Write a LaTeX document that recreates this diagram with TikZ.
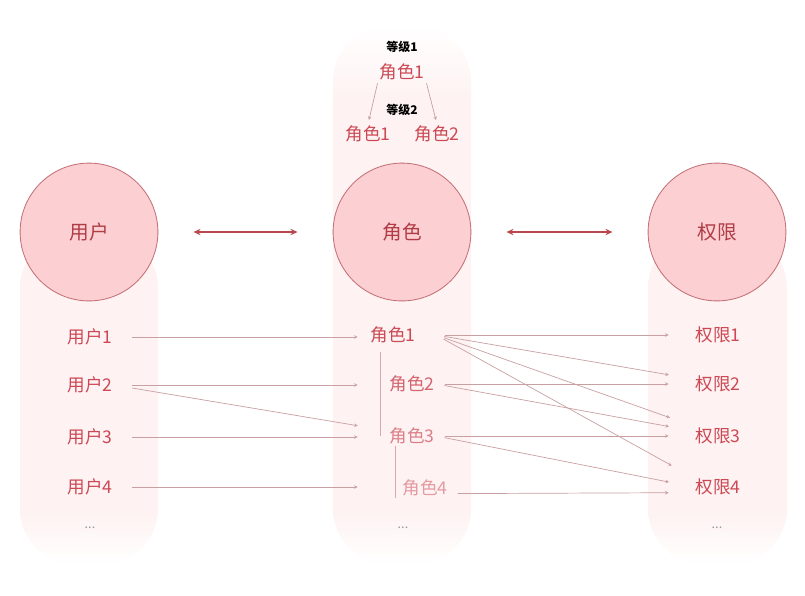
\documentclass[tikz,border=0pt]{standalone}
\usepackage{fontspec}
\setmainfont{Noto Sans CJK SC}
\usetikzlibrary{arrows.meta}
\definecolor{labred}{RGB}{204,72,84}
\definecolor{circtext}{RGB}{176,60,70}
\definecolor{circfill}{RGB}{252,208,210}
\definecolor{circline}{RGB}{196,112,118}
\definecolor{arrred}{RGB}{184,72,76}
\definecolor{linkcol}{RGB}{200,160,162}
\definecolor{colbg}{RGB}{254,242,242}
\definecolor{barcol}{RGB}{214,170,172}
\pgfdeclareverticalshading{sidefade}{100bp}{color(0bp)=(white); color(25bp)=(white);
  color(33bp)=(colbg); color(100bp)=(colbg)}
\pgfdeclareverticalshading{midfade}{100bp}{color(0bp)=(white); color(25bp)=(white);
  color(30bp)=(colbg); color(68bp)=(colbg); color(75bp)=(white); color(100bp)=(white)}
\tikzset{
  column/.style={rounded corners=40pt},
  bigcircle/.style={circle, draw=circline, line width=0.6pt, fill=circfill,
    minimum size=98pt, inner sep=0pt, text=circtext, font=\fontsize{14}{16}\selectfont},
  item/.style={inner sep=1pt, text=labred, font=\fontsize{12.5}{14}\selectfont},
  level/.style={inner sep=1pt, font=\bfseries\fontsize{8.5}{10}\selectfont},
  more/.style={text=gray!80, font=\fontsize{9}{10}\selectfont},
  both/.style={{Stealth[length=5pt,width=4.5pt]}-{Stealth[length=5pt,width=4.5pt]},
    draw=arrred, line width=1pt},
  ulink/.style={-{Stealth[length=2.5pt,width=2.5pt]}, draw=linkcol, line width=0.5pt,
    shorten <=13pt, shorten >=8pt},
  plink/.style={-{Stealth[length=2.5pt,width=2.5pt]}, draw=linkcol, line width=0.5pt,
    shorten <=6pt, shorten >=18pt},
  subarrow/.style={-{Stealth[length=2.5pt,width=2.5pt]}, draw=linkcol, line width=0.5pt,
    shorten <=1pt, shorten >=3pt},
  bar/.style={draw=barcol, line width=0.6pt}
}
\begin{document}
\begin{tikzpicture}[x=0.025cm, y=-0.025cm]
  \useasboundingbox (0,0) rectangle (805,595);
  % columns
  \shade[column, shading=sidefade] (20,232) rectangle (158,565);
  \shade[column, shading=midfade] (333,25) rectangle (471,565);
  \shade[column, shading=sidefade] (648,232) rectangle (787,565);
  % circles
  \node[bigcircle] (cu) at (89,232) {用户};
  \node[bigcircle] (cr) at (402,232) {角色};
  \node[bigcircle] (cp) at (717,232) {权限};
  \draw[both, shorten <=25pt, shorten >=25pt] (cu) -- (cr);
  \draw[both, shorten <=25pt, shorten >=25pt] (cr) -- (cp);
  % role levels
  \node[level] (lv1) at (402,47) {等级1};
  \node[item] (top) at (402,72) {角色1};
  \node[level] (lv2) at (402,110) {等级2};
  \node[item] (subA) at (368,134) {角色1};
  \node[item] (subB) at (437,134) {角色2};
  \draw[subarrow] (top.south west) -- (subA.north);
  \draw[subarrow] (top.south east) -- (subB.north);
  % users
  \node[item] (u1) at (90,337) {用户1};
  \node[item] (u2) at (90,385) {用户2};
  \node[item] (u3) at (90,437) {用户3};
  \node[item] (u4) at (90,487) {用户4};
  \node[more] (ud) at (90,528) {...};
  % roles
  \node[item] (r1) at (393,335) {角色1};
  \node[item, text=labred!85] (r2) at (412,384) {角色2};
  \node[item, text=labred!70] (r3) at (412,436) {角色3};
  \node[item, text=labred!55] (r4) at (425,488) {角色4};
  \node[more] (rd) at (403,528) {...};
  \draw[bar] ([xshift=-5pt, yshift=-5pt]r1.south -| r2.west) -- ([xshift=-5pt]r3.west);
  \draw[bar] ([xshift=-4pt]r3.south -| r4.west) -- ([xshift=-4pt, yshift=-7pt]r4.west);
  % permissions
  \node[item] (p1) at (718,335) {权限1};
  \node[item] (p2) at (718,384) {权限2};
  \node[item] (p3) at (718,436) {权限3};
  \node[item] (p4) at (718,487) {权限4};
  \node[more] (pd) at (717,528) {...};
  % user -> role
  \draw[ulink] (u1.east) -- (u1.east -| r1.west);
  \draw[ulink] (u2.east) -- (u2.east -| r1.west);
  \draw[ulink] (u2.east) -- ([yshift=6pt]r3.west -| r1.west);
  \draw[ulink] (u3.east) -- (u3.east -| r1.west);
  \draw[ulink] (u4.east) -- (u4.east -| r1.west);
  % role -> permission
  \draw[plink] (r1.east -| r2.east) -- (p1.west);
  \draw[plink] (r1.east -| r2.east) -- ([yshift=3.5pt]p2.west);
  \draw[plink] (r1.east -| r2.east) -- ([yshift=7pt]p3.west);
  \draw[plink] (r1.east -| r2.east) -- ([yshift=6.5pt]p4.west);
  \draw[plink] (r2.east) -- (p2.west);
  \draw[plink] (r2.east) -- ([yshift=3.5pt]p3.west);
  \draw[plink] (r3.east) -- (p3.west);
  \draw[plink] (r3.east) -- (p4.west);
  \draw[plink] ([yshift=-4pt]r4.east) -- ([yshift=-4pt]p4.west);
\end{tikzpicture}
\end{document}
